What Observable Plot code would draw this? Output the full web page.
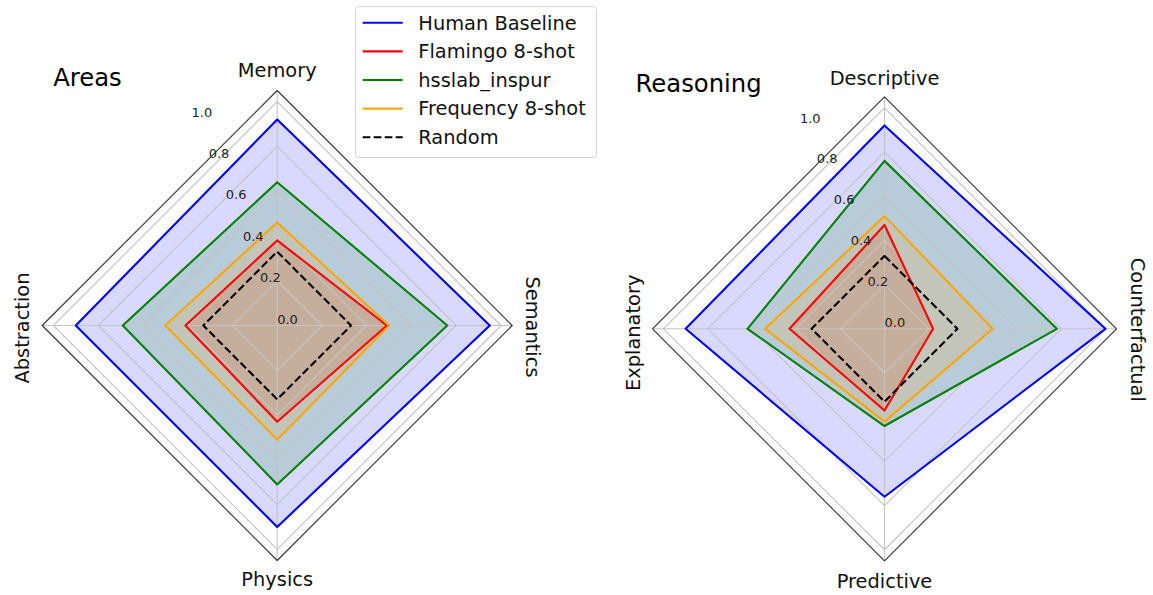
<!DOCTYPE html>
<html><head><meta charset="utf-8">
<script src="https://cdn.jsdelivr.net/npm/d3@7"></script>
<script src="https://cdn.jsdelivr.net/npm/@observablehq/plot@0.6"></script>
<style>
html,body{margin:0;padding:0;background:#fff;}
#wrap{position:relative;width:1153px;height:595px;font-family:"DejaVu Sans",sans-serif;overflow:hidden;background:#fff}
#left,#right{position:absolute;top:0}
#left{left:0}
#right{left:576px}
#legend{position:absolute;left:355px;top:6px;width:242px;height:152px;box-sizing:border-box;border:1px solid #d4d4d4;border-radius:4px;background:rgba(255,255,255,0.8)}
#legend svg{display:block}
</style></head><body>
<div id="wrap"><div id="left"></div><div id="right"></div><div id="legend"></div></div>
<script>
// ---- data ----
const seriesNames = ["Human Baseline", "Flamingo 8-shot", "hsslab_inspur", "Frequency 8-shot", "Random"];
const seriesColors = ["#0000ff", "#ff0000", "#008000", "#ffa500", "#000000"];

const areaAxes = ["Memory", "Semantics", "Physics", "Abstraction"];
const areaHuman = [0.92, 0.95, 0.90, 0.90];
const areaFlamingo = [0.38, 0.49, 0.43, 0.41];
const areaHsslab = [0.64, 0.76, 0.71, 0.69];
const areaFrequency = [0.46, 0.50, 0.51, 0.50];
const areaRandom = [0.33, 0.33, 0.33, 0.33];

const reasoningAxes = ["Descriptive", "Counterfactual", "Predictive", "Explanatory"];
const reasoningHuman = [0.92, 1.00, 0.76, 0.90];
const reasoningFlamingo = [0.47, 0.22, 0.37, 0.43];
const reasoningHsslab = [0.76, 0.78, 0.44, 0.62];
const reasoningFrequency = [0.51, 0.49, 0.42, 0.54];
const reasoningRandom = [0.33, 0.33, 0.33, 0.33];

const gridLevels = [0.2, 0.4, 0.6, 0.8, 1.0];
const tickValues = [0.0, 0.2, 0.4, 0.6, 0.8, 1.0];
const tickLabels = ["0.0", "0.2", "0.4", "0.6", "0.8", "1.0"];
const rMax = 1.05;
const labelAngle = 22.5 * Math.PI / 180;

// ---- helpers ----
const ax = (i, r) => r * Math.sin(i * Math.PI / 2);
const ay = (i, r) => r * Math.cos(i * Math.PI / 2);

function radar(cfg) {
  const seriesValues = cfg.values;
  const marks = [];
  const pts = (vals) => vals.map((v, i) => ({i, v}));
  // fills (not for Random)
  for (let s = 0; s < 4; s++) {
    marks.push(Plot.line(pts(seriesValues[s]), {
      x: d => ax(d.i, d.v), y: d => ay(d.i, d.v), curve: "linear-closed",
      fill: seriesColors[s], fillOpacity: 0.15, stroke: "none"
    }));
  }
  // grid rings
  const ringPts = gridLevels.flatMap(l => cfg.axes.map((a, i) => ({l, i})));
  marks.push(Plot.line(ringPts, {
    x: d => ax(d.i, d.l), y: d => ay(d.i, d.l), z: "l", curve: "linear-closed",
    stroke: "#c4c4c4", strokeWidth: 1.1
  }));
  // spokes
  marks.push(Plot.link(cfg.axes.map((a, i) => i), {
    x1: 0, y1: 0, x2: i => ax(i, rMax), y2: i => ay(i, rMax),
    stroke: "#c4c4c4", strokeWidth: 1.1
  }));
  // outer frame
  marks.push(Plot.line(cfg.axes.map((a, i) => i), {
    x: i => ax(i, rMax), y: i => ay(i, rMax), curve: "linear-closed",
    stroke: "#333", strokeWidth: 1.1
  }));
  // series lines
  for (let s = 0; s < 5; s++) {
    marks.push(Plot.line(pts(seriesValues[s]), {
      x: d => ax(d.i, d.v), y: d => ay(d.i, d.v), curve: "linear-closed",
      stroke: seriesColors[s], strokeWidth: 2.1,
      strokeDasharray: s === 4 ? "7.7,3.3" : null,
      strokeLinecap: s === 4 ? "butt" : "round",
      strokeLinejoin: "round"
    }));
  }
  // radial tick labels
  marks.push(Plot.text(tickValues, {
    x: v => -v * Math.sin(labelAngle), y: v => v * Math.cos(labelAngle),
    text: (v, k) => tickLabels[k], textAnchor: "start", lineAnchor: "bottom",
    dy: -2, fontSize: 13, fill: "#222"
  }));
  // axis labels
  const lab = cfg.labels;
  const rot = [0, 90, 0, -90];
  const anchors = ["bottom", "bottom", "top", "bottom"];
  cfg.axes.forEach((name, i) => {
    marks.push(Plot.text([name], {
      x: ax(i, rMax), y: ay(i, rMax), text: d => d, rotate: rot[i],
      textAnchor: "middle", lineAnchor: anchors[i],
      dx: lab[i][0], dy: lab[i][1], fontSize: 19.4, fill: "#111"
    }));
  });
  // title
  marks.push(Plot.text([cfg.title], {
    frameAnchor: "top-left", text: d => d, textAnchor: "start", lineAnchor: "bottom",
    dx: cfg.titlePos[0], dy: cfg.titlePos[1], fontSize: 24.3, fill: "#000"
  }));

  return Plot.plot({
    width: cfg.width, height: 595, margin: 0,
    style: {fontFamily: "DejaVu Sans, sans-serif", background: "transparent", overflow: "visible"},
    x: {domain: [-rMax, rMax], range: [cfg.cx - cfg.R, cfg.cx + cfg.R], axis: null},
    y: {domain: [-rMax, rMax], range: [cfg.cy + cfg.R, cfg.cy - cfg.R], axis: null},
    marks
  });
}

document.getElementById("left").appendChild(radar({
  axes: areaAxes,
  values: [areaHuman, areaFlamingo, areaHsslab, areaFrequency, areaRandom],
  width: 576, cx: 276.7, cy: 325, R: 235,
  title: "Areas", titlePos: [52.7, 85],
  labels: [[0, -13.3], [13.4, 1.5], [0, 11.7], [-13.4, 2.5]]
}));

document.getElementById("right").appendChild(radar({
  axes: reasoningAxes,
  values: [reasoningHuman, reasoningFlamingo, reasoningHsslab, reasoningFrequency, reasoningRandom],
  width: 577, cx: 308, cy: 328.3, R: 232,
  title: "Reasoning", titlePos: [59, 91.7],
  labels: [[0, -12], [14, 1], [0, 13.2], [-13, 4]]
}));

// ---- legend ----
const lg = d3.select("#legend").append("svg").attr("width", 240).attr("height", 150);
seriesNames.forEach((name, k) => {
  const y = 15.7 + 28.65 * k;
  lg.append("line").attr("x1", 6.7).attr("x2", 46.7).attr("y1", y).attr("y2", y)
    .attr("stroke", seriesColors[k]).attr("stroke-width", 2.1)
    .attr("stroke-dasharray", k === 4 ? "7.7,3.3" : null);
  lg.append("text").attr("x", 62.3).attr("y", y + 6.8).text(name)
    .attr("font-family", "DejaVu Sans, sans-serif").attr("font-size", 19.4).attr("fill", "#111");
});
</script>
</body></html>
